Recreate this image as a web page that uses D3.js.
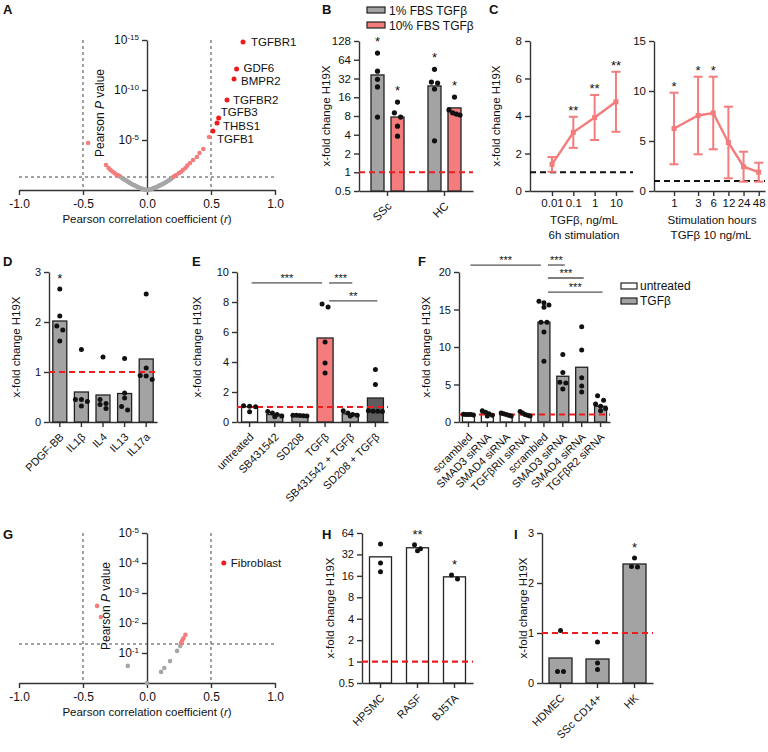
<!DOCTYPE html>
<html lang="en">
<meta charset="UTF-8">
<script src="https://d3js.org/d3.v7.min.js"></script>
<style>
  body { margin: 0; background: #fff; }
  svg text { font-family: "Liberation Sans", Arial, sans-serif; fill: #111; }
  .axis path, .axis line { stroke: #333; stroke-width: 1.4px; }
  .axis text { font-size: 11px; font-family: "Liberation Sans", Arial, sans-serif; fill: #111; }
</style>
<body>
<div id="chart"></div>
<script>
// ---------- A: genes vs H19X ----------
const aGeneNames = ["TGFBR1", "GDF6", "BMPR2", "TGFBR2", "TGFB3", "THBS1", "TGFB1"];
const aGeneR = [0.75, 0.70, 0.68, 0.625, 0.56, 0.547, 0.515];
const aGeneLogP = [14.8, 12.1, 11.1, 9.0, 7.2, 6.7, 5.9];
const aSigR = [-0.46, -0.32, -0.30, -0.285, -0.27, -0.255, -0.24,
  0.205, 0.215, 0.23, 0.25, 0.265, 0.28, 0.30, 0.315, 0.336, 0.36, 0.39, 0.41, 0.44, 0.485];
const aSigLogP = [4.7, 2.5, 2.2, 2.0, 1.85, 1.7, 1.55,
  1.3, 1.4, 1.5, 1.7, 1.8, 2.0, 2.2, 2.45, 2.7, 3.0, 3.3, 3.7, 4.1, 5.3];
const aNsR = [-0.23, -0.22, -0.21, -0.2, -0.19, -0.18, -0.17, -0.16, -0.15, -0.14, -0.13, -0.12,
  -0.11, -0.1, -0.09, -0.08, -0.07, -0.06, -0.05, -0.04, -0.03, -0.02, -0.01, 0,
  0.01, 0.02, 0.03, 0.04, 0.05, 0.06, 0.07, 0.08, 0.09, 0.1, 0.11, 0.12, 0.13, 0.14, 0.15,
  0.16, 0.17, 0.18, 0.19];
const aNsLogP = [1.5, 1.42, 1.34, 1.25, 1.16, 1.08, 1.0, 0.92, 0.84, 0.76, 0.68, 0.6,
  0.53, 0.47, 0.41, 0.35, 0.29, 0.23, 0.18, 0.13, 0.09, 0.05, 0.02, 0,
  0.02, 0.05, 0.08, 0.12, 0.17, 0.22, 0.28, 0.33, 0.4, 0.46, 0.52, 0.58, 0.65, 0.72, 0.8,
  0.88, 0.96, 1.04, 1.12];

// ---------- B ----------
const bCats = ["SSc", "HC"];
const bSeries = ["1% FBS TGFβ", "10% FBS TGFβ"];
const bMean1 = [36.5, 24.3];
const bMean10 = [7.7, 10.8];
const bDots1 = [[82, 42, 31, 23.4, 7.7], [45, 27, 28, 21.7, 3.2]];
const bDots10 = [[13.4, 9.0, 7.7, 5.5, 3.8], [16.1, 10, 9, 8.6, 8.3]];
const bStars = [["*", "*"], ["*", "*"]];

// ---------- C ----------
const cDose = [0.01, 0.1, 1, 10];
const cDoseMean = [1.42, 3.13, 3.92, 4.76];
const cDoseSD = [0.39, 0.83, 1.2, 1.6];
const cDoseStars = ["", "**", "**", "**"];
const cHours = [1, 3, 6, 12, 24, 48];
const cHourMean = [6.25, 7.55, 7.8, 4.85, 2.43, 1.88];
const cHourSD = [3.58, 3.88, 3.63, 3.58, 1.5, 0.95];
const cHourStars = ["*", "*", "*", "", "", ""];

// ---------- D ----------
const dCats = ["PDGF-BB", "IL1β", "IL4", "IL13", "IL17a"];
const dMeans = [2.02, 0.6, 0.54, 0.57, 1.26];
const dDots = [[2.66, 2.12, 1.92, 1.84, 1.62], [1.45, 0.45, 0.41, 0.45, 0.32],
  [1.3, 0.37, 0.45, 0.35, 0.27], [1.27, 0.58, 0.48, 0.31, 0.24], [2.56, 1.08, 0.93, 0.92, 0.85]];
const dStars = ["*", "", "", "", ""];

// ---------- E ----------
const eCats = ["untreated", "SB431542", "SD208", "TGFβ", "SB431542 + TGFβ", "SD208 + TGFβ"];
const eMeans = [1.02, 0.5, 0.45, 5.6, 0.55, 1.6];
const eDots = [[1.08, 1.05, 1.02, 0.68], [0.7, 0.6, 0.5, 0.4, 0.35], [0.45, 0.45, 0.44, 0.42, 0.4],
  [7.87, 7.67, 5.33, 3.93, 3.27], [0.75, 0.6, 0.5, 0.45, 0.4], [3.5, 2.5, 0.75, 0.72, 0.72, 0.7]];
const eSigFrom = [0, 3, 3];
const eSigTo = [3, 4, 5];
const eSigLevel = [9.27, 9.27, 8.07];
const eSigLabel = ["***", "***", "**"];

// ---------- F ----------
const fCats = ["scrambled", "SMAD3 siRNA", "SMAD4 siRNA", "TGFβRII siRNA",
  "scrambled", "SMAD3 siRNA", "SMAD4 siRNA", "TGFβR2 siRNA"];
const fGroups = ["untreated", "TGFβ"];
const fGroupOf = [0, 0, 0, 0, 1, 1, 1, 1];
const fMeans = [1.0, 1.1, 1.0, 1.0, 13.3, 6.1, 7.3, 2.1];
const fDots = [[1.05, 1.0, 1.0, 0.95, 1.0], [1.5, 1.3, 1.1, 0.9, 0.8], [1.2, 1.1, 1.0, 0.9, 0.8],
  [1.4, 1.2, 1.0, 0.9, 0.8], [16.1, 15.9, 15.6, 15.3, 13.3, 13.3, 12, 8.1],
  [9.0, 6.6, 5.3, 5.2, 4.4], [12.7, 9.6, 5.9, 4.8, 4.0], [3.5, 2.9, 2.4, 2.1, 1.8, 1.5]];
const fSigFrom = [0, 4, 4, 4];
const fSigTo = [4, 5, 6, 7];
const fSigLevel = [20.93, 20.93, 19.2, 17.33];
const fSigLabel = ["***", "***", "***", "***"];

// ---------- G ----------
const gNames = ["Fibroblast"];
const gNamedR = [0.6];
const gNamedLogP = [4.0];
const gR = [-0.39, -0.36, -0.15, 0, 0.11, 0.135, 0.18, 0.235, 0.26, 0.265, 0.275, 0.285, 0.3];
const gLogP = [2.57, 2.2, 0.57, 0, 0.37, 0.5, 0.73, 1.07, 1.23, 1.33, 1.41, 1.49, 1.61];

// ---------- H ----------
const hCats = ["HPSMC", "RASF", "BJ5TA"];
const hMeans = [29.6, 39.7, 15.5];
const hDots = [[45, 24.3, 18.2], [43.7, 38.4, 36], [16.5, 14.5]];
const hStars = ["", "**", "*"];

// ---------- I ----------
const iCats = ["HDMEC", "SSc CD14+", "HK"];
const iMeans = [0.5, 0.48, 2.38];
const iDots = [[1.05, 0.23, 0.23], [0.82, 0.4, 0.27], [2.5, 2.33, 2.32]];
const iStars = ["", "", "*"];

const RED = "#ee1c1c", PINK = "#f47c7c", GREY = "#a3a3a3", DARK = "#5e5e5e";

const svg = d3.select("#chart").append("svg").attr("width", 768).attr("height", 752);

function letter(x, y, t) {
  svg.append("text").attr("x", x).attr("y", y).style("font-size", "13px")
    .style("font-weight", "bold").text(t);
}
function yLabel(x, y, t) {
  svg.append("text").attr("transform", `translate(${x},${y}) rotate(-90)`)
    .attr("text-anchor", "middle").style("font-size", "11.5px").text(t);
}
function star(x, yBase, t, size) {
  svg.append("text").attr("x", x).attr("y", yBase).attr("text-anchor", "middle")
    .style("font-size", (size || 13) + "px").text(t);
}
// spreads dots of equal height sideways
function place(vals, cx, y, r, maxW) {
  const pts = vals.map(v => ({ v, y: y(v) })).sort((a, b) => a.y - b.y);
  const rows = [];
  pts.forEach(p => {
    const row = rows[rows.length - 1];
    if (row && p.y - row[0].y < 2 * r) row.push(p); else rows.push([p]);
  });
  rows.forEach(row => {
    const gap = row.length > 1 ? Math.min(2 * r + 1, maxW / (row.length - 1)) : 0;
    row.forEach((p, i) => { p.x = cx + (i - (row.length - 1) / 2) * gap; });
  });
  return pts;
}
function supTicks(g) {
  g.selectAll(".tick text").text(null).each(function (d) {
    const t = d3.select(this);
    t.append("tspan").text("10");
    t.append("tspan").attr("dy", "-0.5em").style("font-size", "8px").text("-" + d);
  });
}

// ================= A & G (correlation plots) =================
function corrPlot(o) {
  const x = d3.scaleLinear().domain([-1, 1]).range([19, 275]);
  const y = d3.scaleLinear().domain([0, o.max]).range([o.bottom, o.top]);
  const g = svg.append("g");
  const dash = "3,3";
  g.append("line").attr("x1", 19).attr("x2", 275).attr("y1", y(1.3)).attr("y2", y(1.3))
    .attr("stroke", "#444").attr("stroke-dasharray", dash);
  [-0.5, 0.5].forEach(v => g.append("line").attr("x1", x(v)).attr("x2", x(v))
    .attr("y1", o.top).attr("y2", o.bottom).attr("stroke", "#444").attr("stroke-dasharray", dash));
  g.append("g").attr("class", "axis").attr("transform", `translate(0,${o.bottom})`)
    .call(d3.axisBottom(x).tickValues([-1, -0.5, 0, 0.5, 1]).tickSize(5).tickPadding(4)
      .tickSizeOuter(0).tickFormat(d => d.toFixed(1)))
    .selectAll("text").style("font-size", "12px");
  const ya = g.append("g").attr("class", "axis").attr("transform", `translate(${x(0)},0)`)
    .call(d3.axisLeft(y).tickValues(o.ticks).tickSize(5).tickSizeOuter(0));
  ya.selectAll("text").style("font-size", "12px");
  supTicks(ya);
  o.ns.forEach(p => g.append("circle").attr("cx", x(p[0])).attr("cy", y(p[1])).attr("r", 2.3)
    .attr("fill", p[1] >= 1.3 ? PINK : "#a6a6a6"));
  o.named.forEach(p => {
    g.append("circle").attr("cx", x(p[0])).attr("cy", y(p[1])).attr("r", 2.5).attr("fill", RED);
    g.append("text").attr("x", x(p[0]) + p[3]).attr("y", y(p[1]) + p[4])
      .style("font-size", "11.5px").text(p[2]);
  });
  svg.append("text").attr("transform", `translate(${o.yLabX},${(o.top + o.bottom) / 2 - 2}) rotate(-90)`)
    .attr("text-anchor", "middle").style("font-size", "12px")
    .call(t => { t.append("tspan").text("Pearson "); t.append("tspan").style("font-style", "italic").text("P");
      t.append("tspan").text(" value"); });
  svg.append("text").attr("x", 147).attr("y", o.bottom + 33).attr("text-anchor", "middle")
    .style("font-size", "11.5px")
    .call(t => { t.append("tspan").text("Pearson correlation coefficient ("); t.append("tspan")
      .style("font-style", "italic").text("r"); t.append("tspan").text(")"); });
}
const aLabDx = [8, 7, 7, 6, 2, 6, 4], aLabDy = [4, 3, 6, 4, -2, 7, 12];
corrPlot({
  max: 15, top: 40, bottom: 190, ticks: [5, 10, 15], yLabX: 104,
  ns: aNsR.map((r, i) => [r, aNsLogP[i]]).concat(aSigR.map((r, i) => [r, aSigLogP[i]])),
  named: aGeneNames.map((n, i) => [aGeneR[i], aGeneLogP[i], n, aLabDx[i], aLabDy[i]])
});
corrPlot({
  max: 5, top: 533, bottom: 683, ticks: [1, 2, 3, 4, 5], yLabX: 110,
  ns: gR.map((r, i) => [r, gLogP[i]]),
  named: gNames.map((n, i) => [gNamedR[i], gNamedLogP[i], n, 7, 4])
});

// ================= generic bar panel =================
function catLabels(ax) {
  ax.selectAll(".tick text").attr("x", 0).attr("y", 0).attr("dy", "0.35em")
    .attr("text-anchor", "end").attr("transform", "translate(2,13) rotate(-45)");
}
function barPanel(o) {
  const x = d3.scaleBand().domain(o.cats.map((c, i) => i)).range([o.x0, o.x1]);
  const y = (o.log ? d3.scaleLog().base(2) : d3.scaleLinear()).domain(o.domain).range([o.yb, o.yt]);
  const g = svg.append("g");
  g.append("g").attr("class", "axis").attr("transform", `translate(${o.x0},0)`)
    .call(d3.axisLeft(y).tickValues(o.ticks).tickFormat(d => d).tickSize(5).tickSizeOuter(0));
  const xa = g.append("g").attr("class", "axis").attr("transform", `translate(0,${o.yb})`)
    .call(d3.axisBottom(x).tickFormat(i => o.cats[i]).tickSize(5).tickSizeOuter(0));
  catLabels(xa);
  const cx = i => x(i) + x.bandwidth() / 2;
  o.means.forEach((m, i) => g.append("rect").attr("x", cx(i) - o.barW / 2).attr("y", y(m))
    .attr("width", o.barW).attr("height", o.yb - y(m)).attr("fill", o.fills[i])
    .attr("stroke", "#222").attr("stroke-width", 1.3));
  g.append("line").attr("x1", o.x0).attr("x2", o.x1).attr("y1", y(1)).attr("y2", y(1))
    .attr("stroke", RED).attr("stroke-width", 2.2).attr("stroke-dasharray", "6,4");
  o.dots.forEach((vals, i) => {
    const pts = place(vals, cx(i), y, 2.5, o.barW - 2);
    pts.forEach(p => g.append("circle").attr("cx", p.x).attr("cy", p.y).attr("r", 2.5).attr("fill", "#111"));
    if (o.stars && o.stars[i]) star(cx(i), d3.min(pts, p => p.y) - 6, o.stars[i]);
  });
  if (o.sig) o.sig.from.forEach((f, k) => {
    const t = o.sig.to[k], ref = o.sig.ref;
    const x1 = cx(f) + (f === ref ? 4 : 2), x2 = cx(t) + (t === ref ? -3 : 2), yy = y(o.sig.level[k]);
    g.append("line").attr("x1", x1).attr("x2", x2).attr("y1", yy).attr("y2", yy)
      .attr("stroke", "#555").attr("stroke-width", 1.3);
    star((x1 + x2) / 2, yy - 1, o.sig.label[k], 11);
  });
  yLabel(o.ylx, (o.yb + o.yt) / 2, "x-fold change H19X");
  return { x, y };
}

// ================= B =================
(function () {
  const x = d3.scaleBand().domain(bCats).range([359, 473]);
  const s = d3.scaleBand().domain([0, 1]).range([-20, 20]);
  const y = d3.scaleLog().base(2).domain([0.5, 128]).range([191, 41]);
  const g = svg.append("g");
  g.append("g").attr("class", "axis").attr("transform", "translate(359,0)")
    .call(d3.axisLeft(y).tickValues([0.5, 1, 2, 4, 8, 16, 32, 64, 128]).tickFormat(d => d)
      .tickSize(5).tickSizeOuter(0)).selectAll("text").style("font-size", "11.5px");
  const xa = g.append("g").attr("class", "axis").attr("transform", "translate(0,191)")
    .call(d3.axisBottom(x).tickSize(5).tickSizeOuter(0));
  catLabels(xa);
  xa.selectAll("text").style("font-size", "11.5px");
  const means = [bMean1, bMean10], dots = [bDots1, bDots10], fills = [GREY, PINK];
  bCats.forEach((c, i) => [0, 1].forEach(k => {
    const cx = x(c) + x.bandwidth() / 2 + s(k) + s.bandwidth() / 2;
    g.append("rect").attr("x", cx - 6.5).attr("y", y(means[k][i])).attr("width", 13)
      .attr("height", 191 - y(means[k][i])).attr("fill", fills[k]).attr("stroke", "#222").attr("stroke-width", 1.3);
  }));
  g.append("line").attr("x1", 359).attr("x2", 473).attr("y1", y(1)).attr("y2", y(1))
    .attr("stroke", RED).attr("stroke-width", 2.2).attr("stroke-dasharray", "6,4");
  bCats.forEach((c, i) => [0, 1].forEach(k => {
    const cx = x(c) + x.bandwidth() / 2 + s(k) + s.bandwidth() / 2;
    const pts = place(dots[k][i], cx, y, 2.6, 11);
    pts.forEach(p => g.append("circle").attr("cx", p.x).attr("cy", p.y).attr("r", 2.6).attr("fill", "#111"));
    star(cx, d3.min(pts, p => p.y) - 7, bStars[i][k]);
  }));
  bSeries.forEach((n, k) => {
    g.append("rect").attr("x", 367).attr("y", 7 + k * 15).attr("width", 18).attr("height", 6)
      .attr("fill", fills[k]).attr("stroke", "#222").attr("stroke-width", 1.2);
    g.append("text").attr("x", 389).attr("y", 15 + k * 15).style("font-size", "12px").text(n);
  });
  yLabel(330, 116, "x-fold change H19X");
})();

// ================= C =================
function lineErr(xs, means, sds, stars, x, y, x0, x1) {
  const g = svg.append("g");
  g.append("line").attr("x1", x0).attr("x2", x1).attr("y1", y(1)).attr("y2", y(1))
    .attr("stroke", "#111").attr("stroke-width", 2).attr("stroke-dasharray", "6,4");
  xs.forEach((v, i) => {
    const lo = y(means[i] - sds[i]), hi = y(means[i] + sds[i]);
    g.append("line").attr("x1", x(v)).attr("x2", x(v)).attr("y1", lo).attr("y2", hi)
      .attr("stroke", PINK).attr("stroke-width", 2);
    [lo, hi].forEach(yy => g.append("line").attr("x1", x(v) - 4.5).attr("x2", x(v) + 4.5)
      .attr("y1", yy).attr("y2", yy).attr("stroke", PINK).attr("stroke-width", 2));
    if (stars[i]) star(x(v), hi - 2, stars[i]);
  });
  g.append("path").datum(xs.map((v, i) => [x(v), y(means[i])]))
    .attr("d", d3.line()).attr("fill", "none").attr("stroke", PINK).attr("stroke-width", 2.4);
  xs.forEach((v, i) => g.append("rect").attr("x", x(v) - 2.5).attr("y", y(means[i]) - 2.5)
    .attr("width", 5).attr("height", 5).attr("fill", PINK));
}
(function () {
  const xl = d3.scaleLog().domain([0.00093, 63]).range([530, 633]);
  const yl = d3.scaleLinear().domain([0, 8]).range([191, 41]);
  const xr = d3.scaleLog().base(2).domain([0.4, 64]).range([654, 765]);
  const yr = d3.scaleLinear().domain([0, 15]).range([191, 41]);
  [[xl, yl, cDose, [0, 2, 4, 6, 8], 530], [xr, yr, cHours, [0, 5, 10, 15], 654]].forEach(([x, y, xt, yt, ax]) => {
    svg.append("g").attr("class", "axis").attr("transform", `translate(${ax},0)`)
      .call(d3.axisLeft(y).tickValues(yt).tickSize(5).tickSizeOuter(0))
      .selectAll("text").style("font-size", "11.5px");
    svg.append("g").attr("class", "axis").attr("transform", "translate(0,191)")
      .call(d3.axisBottom(x).tickValues(xt).tickFormat(d => d).tickSize(5).tickSizeOuter(0))
      .selectAll("text").style("font-size", "11.5px");
  });
  lineErr(cDose, cDoseMean, cDoseSD, cDoseStars, xl, yl, 530, 633);
  lineErr(cHours, cHourMean, cHourSD, cHourStars, xr, yr, 654, 765);
  const t = (x, y, s) => svg.append("text").attr("x", x).attr("y", y).attr("text-anchor", "middle")
    .style("font-size", "11.5px").text(s);
  t(584, 224, "TGFβ, ng/mL"); t(584, 239, "6h stimulation");
  t(712, 224, "Stimulation hours"); t(711, 239, "TGFβ  10 ng/mL");
  yLabel(500, 116, "x-fold change H19X");
})();

// ================= D, E, F =================
barPanel({ cats: dCats, means: dMeans, dots: dDots, stars: dStars, fills: dCats.map(() => GREY),
  x0: 49, x1: 157, yb: 422, yt: 272, domain: [0, 3], ticks: [0, 1, 2, 3], barW: 14, ylx: 20 });

barPanel({ cats: eCats, means: eMeans, dots: eDots, fills: ["#fff", GREY, GREY, PINK, GREY, DARK],
  x0: 237, x1: 388, yb: 422, yt: 272, domain: [0, 10], ticks: [0, 2, 4, 6, 8, 10], barW: 16, ylx: 201,
  sig: { from: eSigFrom, to: eSigTo, level: eSigLevel, label: eSigLabel, ref: 3 } });

barPanel({ cats: fCats, means: fMeans, dots: fDots, fills: fGroupOf.map(k => k ? GREY : "#fff"),
  x0: 459, x1: 610, yb: 422, yt: 272, domain: [0, 20], ticks: [0, 5, 10, 15, 20], barW: 12, ylx: 430,
  sig: { from: fSigFrom, to: fSigTo, level: fSigLevel, label: fSigLabel, ref: 4 } });
fGroups.forEach((n, k) => {
  svg.append("rect").attr("x", 621).attr("y", 283 + k * 15).attr("width", 16).attr("height", 6)
    .attr("fill", k ? GREY : "#fff").attr("stroke", "#222").attr("stroke-width", 1.2);
  svg.append("text").attr("x", 640).attr("y", 290 + k * 15).style("font-size", "12px").text(n);
});

// ================= H, I =================
barPanel({ cats: hCats, means: hMeans, dots: hDots, stars: hStars, fills: hCats.map(() => "#fff"), log: true,
  x0: 362, x1: 473, yb: 683, yt: 533, domain: [0.5, 64], ticks: [0.5, 1, 2, 4, 8, 16, 32, 64], barW: 22, ylx: 334 });
barPanel({ cats: iCats, means: iMeans, dots: iDots, stars: iStars, fills: iCats.map(() => GREY),
  x0: 542, x1: 653, yb: 683, yt: 533, domain: [0, 3], ticks: [0, 1, 2, 3], barW: 23, ylx: 527 });

// panel letters
[["A", 3, 14], ["B", 322, 14], ["C", 489, 14], ["D", 3, 266], ["E", 192, 266], ["F", 418, 266],
 ["G", 3, 539], ["H", 322, 539], ["I", 514, 539]].forEach(d => letter(d[1], d[2], d[0]));
</script>
</body>
</html>
